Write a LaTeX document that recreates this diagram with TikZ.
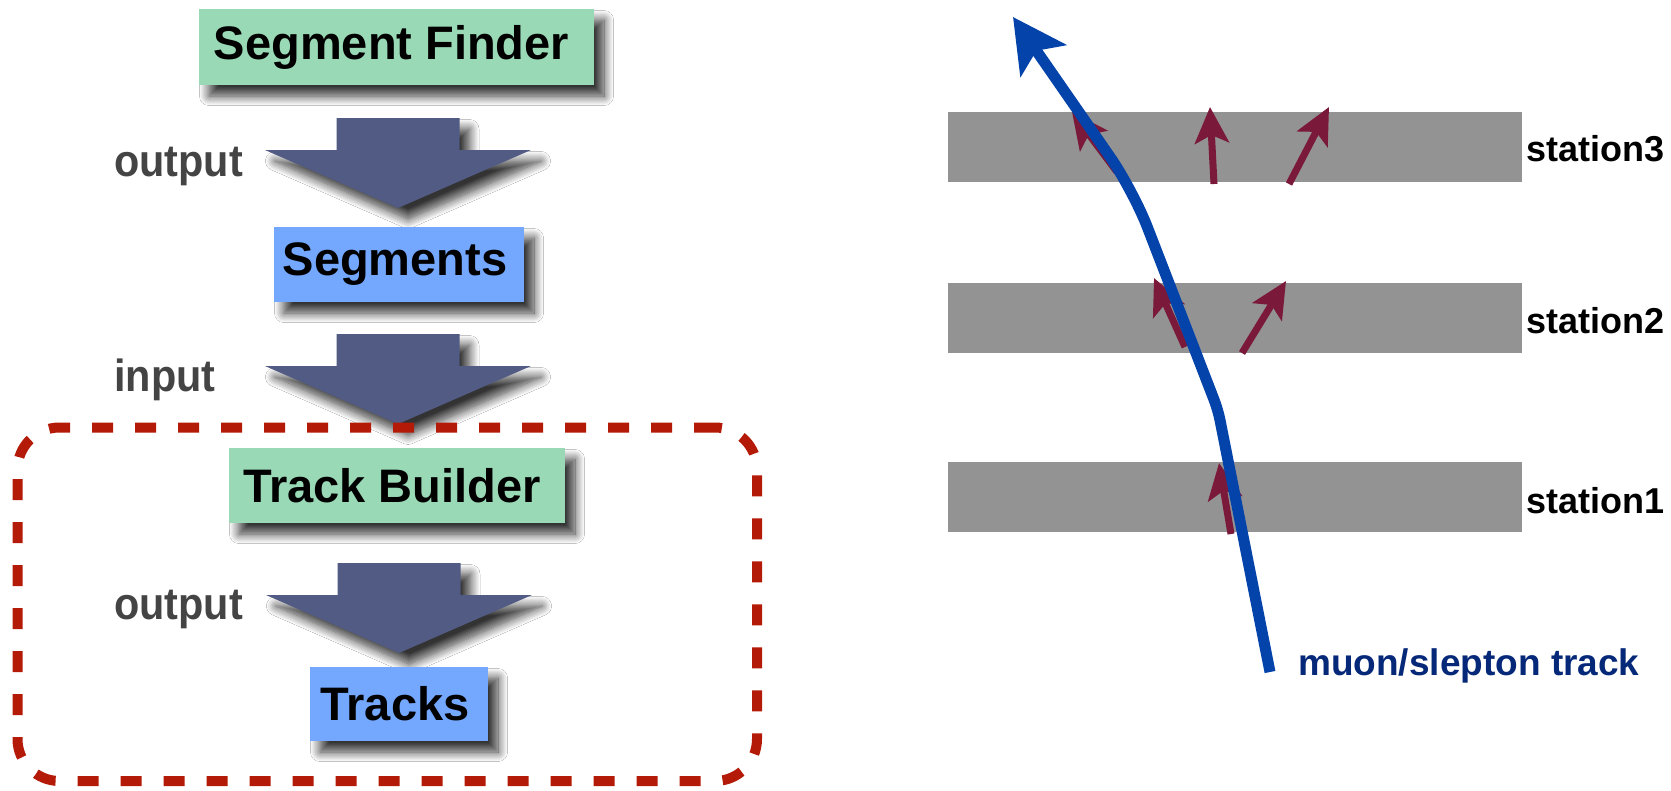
\documentclass[tikz,border=0pt]{standalone}
\usepackage{fontspec}
\setmainfont{Liberation Sans}
\usetikzlibrary{arrows.meta,shadows.blur}

\definecolor{boxgreen}{RGB}{153,217,182}
\definecolor{boxblue}{RGB}{116,167,254}
\definecolor{flowfill}{RGB}{82,91,131}
\definecolor{frameRed}{RGB}{180,26,8}
\definecolor{trackblue}{RGB}{3,67,170}
\definecolor{hitred}{RGB}{122,25,58}
\definecolor{stationgray}{RGB}{147,147,147}
\definecolor{labelgray}{RGB}{68,68,68}
\definecolor{tracklabel}{RGB}{5,40,120}

\tikzset{
  softshadow/.style={blur shadow={shadow xshift=10pt, shadow yshift=-11pt,
      shadow blur radius=9.5pt, shadow blur steps=14, shadow opacity=80}},
  stagebox/.style={softshadow, inner sep=0pt, text=black,
      font=\fontsize{47}{50}\selectfont\bfseries},
  algo/.style={stagebox, fill=boxgreen},
  product/.style={stagebox, fill=boxblue},
  flowtag/.style={anchor=base west, inner sep=0pt, text=labelgray,
      font=\fontsize{45}{48}\selectfont\bfseries},
  groupframe/.style={draw=frameRed, line width=10pt, dash pattern=on 21pt off 22pt,
      rounded corners=42pt, inner sep=0pt},
  station/.style={fill=stationgray, inner sep=0pt, minimum width=574pt, minimum height=70pt},
  stationtag/.style={anchor=base west, inner sep=0pt,
      font=\fontsize{36}{40}\selectfont\bfseries},
  hit/.style={draw=hitred, line width=7pt, -{Stealth[length=36pt, width=34pt, inset=8pt]}},
  track/.style={draw=trackblue, line width=11pt,
      -{Stealth[length=53pt, width=55pt, inset=12pt]}},
  pics/flowarrow/.style={code={
      \fill[flowfill, softshadow] (-61.5,0) -- (61.5,0) -- (61.5,32) -- (133,32)
        -- (0,90) -- (-133,32) -- (-61.5,32) -- cycle;}},
}

\begin{document}
\begin{tikzpicture}[x=1pt, y=-1pt]
\fill[white] (0,0) rectangle (1671,790);
\useasboundingbox (0,0) rectangle (1671,790);

% ---- processing chain ----
\node[algo, minimum width=395pt, minimum height=76pt] (finder) at (396.5,47)
  {Segment Finder\hspace*{10pt}};
\pic (flowA) at (398,118) {flowarrow};
\node[flowtag] (outA) at (114,176) {\scalebox{0.92}[1]{output}};

\node[product, minimum width=250pt, minimum height=75pt] (segments) at (399,264.5)
  {Segments\hspace*{8pt}};
\pic (flowB) at (398,334) {flowarrow};
\node[flowtag] (inB) at (114,391) {\scalebox{0.92}[1]{input}};

\node[algo, minimum width=336pt, minimum height=75pt] (builder) at (397,485.5)
  {Track Builder\hspace*{10pt}};
\pic (flowC) at (399,563) {flowarrow};
\node[flowtag] (outC) at (114,619) {\scalebox{0.92}[1]{output}};

\node[product, minimum width=178pt, minimum height=74pt] (tracks) at (399,704)
  {Tracks\hspace*{8pt}};

\node[groupframe, minimum width=739.5pt, minimum height=353.5pt] (group) at (387.25,604.25) {};

% ---- detector stations ----
\node[station] (st3) at (1235,147) {};
\node[station] (st2) at (1235,318) {};
\node[station] (st1) at (1235,497) {};
\node[stationtag] (lab3) at (1526,161) {station3};
\node[stationtag] (lab2) at (1526,333) {station2};
\node[stationtag] (lab1) at (1526,513) {station1};

% local segments found in each station
\draw[hit] (1117,172) -- (1072,112);
\draw[hit] (1214,184) -- (1210,107);
\draw[hit] (1289,184) -- (1329,107);
\draw[hit] (1185,347) -- (1154,278);
\draw[hit] (1242,353) -- (1286,281);
\draw[hit] (1231,534) -- (1219,463);

% reconstructed track: nearly straight below, bending more strongly above station 2
\coordinate (trkStart) at (1270,672);
\coordinate (trkBendA) at (1218,410);
\coordinate (trkBendB) at (1133,190);
\coordinate (trkEnd) at (1013,17);
\draw[track, rounded corners=10pt] (trkStart) -- (trkBendA)
  [rounded corners=40pt] -- (trkBendB) -- (trkEnd);
\node[stationtag, text=tracklabel, font=\fontsize{37}{40}\selectfont\bfseries]
  (trklab) at (1298,675) {muon/slepton track};
\end{tikzpicture}
\end{document}
